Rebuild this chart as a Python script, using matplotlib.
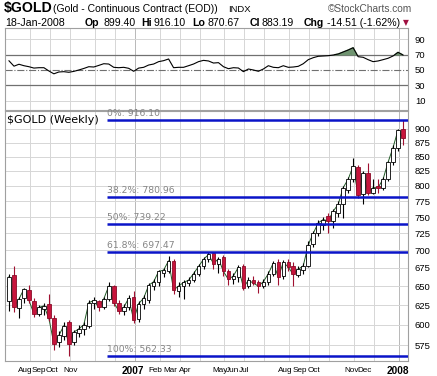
import numpy as np
import pandas as pd
import matplotlib

matplotlib.use("Agg")
import matplotlib.pyplot as plt
from matplotlib.ticker import FixedLocator, NullLocator, FixedFormatter
from matplotlib.transforms import blended_transform_factory

# weekly bars, week starting Monday
weeks = pd.date_range("2006-07-10", periods=80, freq="W-MON")

opens = [630, 665, 621, 634, 645, 630, 614, 620, 626, 608,
         579, 586, 603, 579, 590, 595, 598, 628, 630, 623,
         633, 650, 628, 618, 622, 636, 607, 626, 632, 650,
         655, 668, 671, 685, 643, 650, 654, 658, 667, 677,
         687, 696, 681, 690, 670, 659, 662, 677, 650, 658,
         656, 650, 655, 666, 684, 664, 684, 678, 665, 672,
         678, 709, 725, 737, 751, 744, 757, 770, 793, 812,
         832, 786, 822, 789, 800, 797, 811, 840, 866, 899.40]
highs = [667, 678, 636, 648, 652, 634, 625, 628, 639, 612,
         592, 603, 606, 594, 600, 604, 632, 635, 632, 636,
         655, 652, 631, 626, 638, 644, 630, 638, 654, 660,
         672, 675, 692, 688, 656, 658, 662, 670, 680, 690,
         698, 698, 691, 693, 673, 668, 679, 680, 662, 664,
         658, 660, 670, 685, 688, 686, 688, 684, 678, 682,
         713, 728, 745, 750, 756, 762, 775, 800, 815, 848,
         836, 825, 838, 812, 812, 814, 842, 870, 900, 916.10]
lows = [617, 616, 608, 628, 628, 610, 611, 612, 605, 570,
        573, 582, 562.33, 575, 585, 588, 596, 620, 618, 620,
        630, 624, 614, 612, 619, 602, 604, 620, 628, 645,
        650, 662, 668, 640, 636, 633, 650, 655, 664, 674,
        683, 673, 668, 664, 652, 653, 656, 645, 647, 652,
        641, 648, 652, 664, 652, 660, 670, 650, 662, 666,
        676, 705, 721, 730, 726, 733, 750, 748, 788, 806,
        780, 771, 785, 786, 788, 793, 808, 836, 859, 870.67]
closes = [663, 622, 633, 646, 631, 614, 622, 624, 608, 577,
          587, 599, 577, 591, 595, 600, 628, 631, 622, 633,
          650, 628, 618, 622, 634, 606, 627, 634, 651, 656,
          670, 672, 685, 645, 650, 655, 658, 667, 677, 687,
          694, 681, 688, 670, 659, 664, 676, 648, 658, 654,
          650, 656, 667, 682, 662, 683, 676, 666, 673, 678,
          708, 725, 741, 746, 744, 759, 770, 797, 811, 833,
          785, 822, 789, 797, 797, 811, 840, 866, 897.70, 883.19]

# RSI(14)
rsi = [62, 55, 57.5, 55.6, 54.3, 52.5, 53, 53, 48.7, 45,
       47.4, 47.8, 47, 48.2, 50, 52, 54.3, 53.9, 56, 58.2,
       57.8, 53.5, 53, 53.5, 52.2, 48.3, 52.5, 53.5, 56.5, 57.8,
       60.9, 62.2, 64.4, 53, 53.5, 53.5, 55.6, 57.8, 60.9, 62.6,
       61.8, 59.1, 59.6, 54.3, 51.7, 53, 52.6, 47.8, 51.3, 50,
       48.3, 51.3, 55.6, 53.5, 53, 55.6, 53.5, 53.9, 54.8, 58.2,
       63.5, 66.1, 67.9, 68.3, 68.7, 69.6, 70.9, 73.5, 76.1, 79.1,
       67.4, 66.6, 63.5, 60.9, 61.8, 63.5, 65.3, 68.3, 73.1, 69.6]

fib_ratios = [0.0, 0.382, 0.5, 0.618, 1.0]
price_ticks = list(range(575, 901, 25))
rsi_ticks = [10, 30, 50, 70, 90]

month_labels = ["Aug", "Sep", "Oct", "Nov", "2007", "Feb", "Mar", "Apr",
                "May", "Jun", "Jul", "Aug", "Sep", "Oct", "Nov", "Dec", "2008"]
# StockCharts packs the month labels into little groups; label centres in bar units
label_pos = [3.2, 5.9, 8.6, 12.4, 24.8, 29.4, 32.3, 35.3,
             42.3, 44.9, 47.2, 55.4, 58.4, 61.2, 68.6, 71.3, 78.0]

W, H = 437, 376
SANS = ["Liberation Sans", "DejaVu Sans"]
NARROW = ["Liberation Sans Narrow", "Liberation Sans", "DejaVu Sans"]


def fx(px):
    return px / W


def fy(py):
    return 1 - py / H


o, h, l, c = (np.asarray(v, dtype=float) for v in (opens, highs, lows, closes))
xs = np.arange(len(c))
up = c >= o
month_starts = [i for i in range(1, len(weeks)) if weeks[i].month != weeks[i - 1].month]
year_starts = [i for i in month_starts if weeks[i].month == 1]

fig = plt.figure(figsize=(W / 100, H / 100), dpi=100)
fig.patch.set_facecolor("white")

ax_rsi = fig.add_axes([fx(5), fy(110), 403 / W, 82 / H])
ax = fig.add_axes([fx(5), fy(361), 403 / W, 250 / H])

GRID = "#d6d6d6"
for a in (ax_rsi, ax):
    a.set_xlim(-0.8, 80.0)
    for i in month_starts:
        a.axvline(i + 0.2, color="#b8b8b8" if i in year_starts else GRID, lw=0.7, zorder=0)
    a.set_xticks([])
    for s in a.spines.values():
        s.set_color("#a0a0a0")
        s.set_linewidth(0.8)
    a.yaxis.tick_right()
    a.tick_params(axis="y", length=0, pad=5, labelsize=6.8)

# --- RSI panel ---
r = np.asarray(rsi)
ax_rsi.set_ylim(-2.3, 104.9)
for v in (10, 90):
    ax_rsi.axhline(v, color=GRID, lw=0.7, zorder=0)
ax_rsi.axhline(70, color="#707070", lw=0.9)
ax_rsi.axhline(30, color="#707070", lw=0.9)
ax_rsi.axhline(50, color="#707070", lw=0.8, ls="-.")
ax_rsi.fill_between(xs, r, 70, where=r > 70, interpolate=True, color="#6f9470", zorder=2)
ax_rsi.plot(xs, r, color="black", lw=0.8, zorder=3)
ax_rsi.set_yticks(rsi_ticks)
ax_rsi.set_yticklabels([str(t) for t in rsi_ticks], family=SANS)

# --- price panel ---
ax.set_yscale("log")
ax.set_ylim(556.7, 934.0)
ax.yaxis.set_major_locator(FixedLocator(price_ticks))
ax.yaxis.set_minor_locator(NullLocator())
ax.yaxis.set_major_formatter(FixedFormatter([str(t) for t in price_ticks]))
for lab in ax.get_yticklabels():
    lab.set_family(SANS)
for t in price_ticks:
    ax.axhline(t, color=GRID, lw=0.7, zorder=0)

ax.plot(xs, c, color="#1f5a24", lw=0.7, zorder=1)
red = "#c8143c"
ax.vlines(xs[up], l[up], h[up], color="black", lw=0.8, zorder=2)
ax.vlines(xs[~up], l[~up], h[~up], color="#a01030", lw=0.8, zorder=2)
body_lo = np.minimum(o, c)
body_hi = np.maximum(o, c)
ax.bar(xs[up], body_hi[up] - body_lo[up], bottom=body_lo[up], width=0.72,
       color="white", edgecolor="black", lw=0.6, zorder=3)
ax.bar(xs[~up], body_hi[~up] - body_lo[~up], bottom=body_lo[~up], width=0.72,
       color=red, edgecolor="#8a0c28", lw=0.6, zorder=3)

hi, lo = h.max(), l.min()
fib_start = 19.6
for ratio in fib_ratios:
    level = hi - ratio * (hi - lo)
    ax.hlines(level, fib_start, 80.0, color="#0a14c8", lw=1.8, zorder=4)
    ax.annotate(f"{ratio * 100:g}%: {level:.2f}", (fib_start, level), xytext=(0, 1.5),
                textcoords="offset points", fontsize=6.7, color="#858585",
                va="bottom", ha="left", zorder=5)

ax.text(0.005, 0.963, "$GOLD (Weekly)", transform=ax.transAxes, fontsize=8,
        va="center", ha="left", zorder=6)

# month labels under the price panel
tr = blended_transform_factory(ax.transData, fig.transFigure)
for lab, pos in zip(month_labels, label_pos):
    if lab.isdigit():
        ax.text(pos, fy(371), lab, transform=tr, fontsize=7.2, fontweight="bold",
                family=SANS, ha="center", va="center")
    else:
        ax.text(pos, fy(371), lab, transform=tr, fontsize=5.9, family=NARROW,
                ha="center", va="center")

# --- header ---
fig.text(fx(4), fy(11.7), "$GOLD", fontsize=10.2, fontweight="bold", family=SANS, va="baseline")
fig.text(fx(53), fy(11.7), "(Gold - Continuous Contract (EOD))", fontsize=7.5, family=SANS,
         va="baseline")
fig.text(fx(228), fy(11.7), "INDX", fontsize=6.8, family=SANS, va="baseline")
fig.text(fx(412), fy(11.7), "\u00a9StockCharts.com", fontsize=7.3, family=SANS,
         color="#555555", ha="right", va="baseline")

prev_close = c[-2]
chg = c[-1] - prev_close
pct = chg / prev_close * 100
date_txt = (weeks[-1] + pd.Timedelta(days=4)).strftime("%d-%b-%Y")
fig.text(fx(5), fy(25.5), date_txt, fontsize=7.7, family=SANS, va="baseline")
pieces = [(85, "Op", True), (103, f"{o[-1]:.2f}", False),
          (141, "Hi", True), (153, f"{h[-1]:.2f}", False),
          (192, "Lo", True), (208, f"{l[-1]:.2f}", False),
          (250, "Cl", True), (262, f"{c[-1]:.2f}", False),
          (304, "Chg", True), (327, f"{chg:.2f} ({pct:.2f}%)", False)]
for px, txt, bold in pieces:
    fig.text(fx(px), fy(25.5), txt, fontsize=7.6, family=SANS,
             fontweight="bold" if bold else "normal", va="baseline")
fig.text(fx(403), fy(25.5), "\u25bc", fontsize=5.5, color="#a01040", va="baseline")

fig.savefig("out.png", dpi=100)
